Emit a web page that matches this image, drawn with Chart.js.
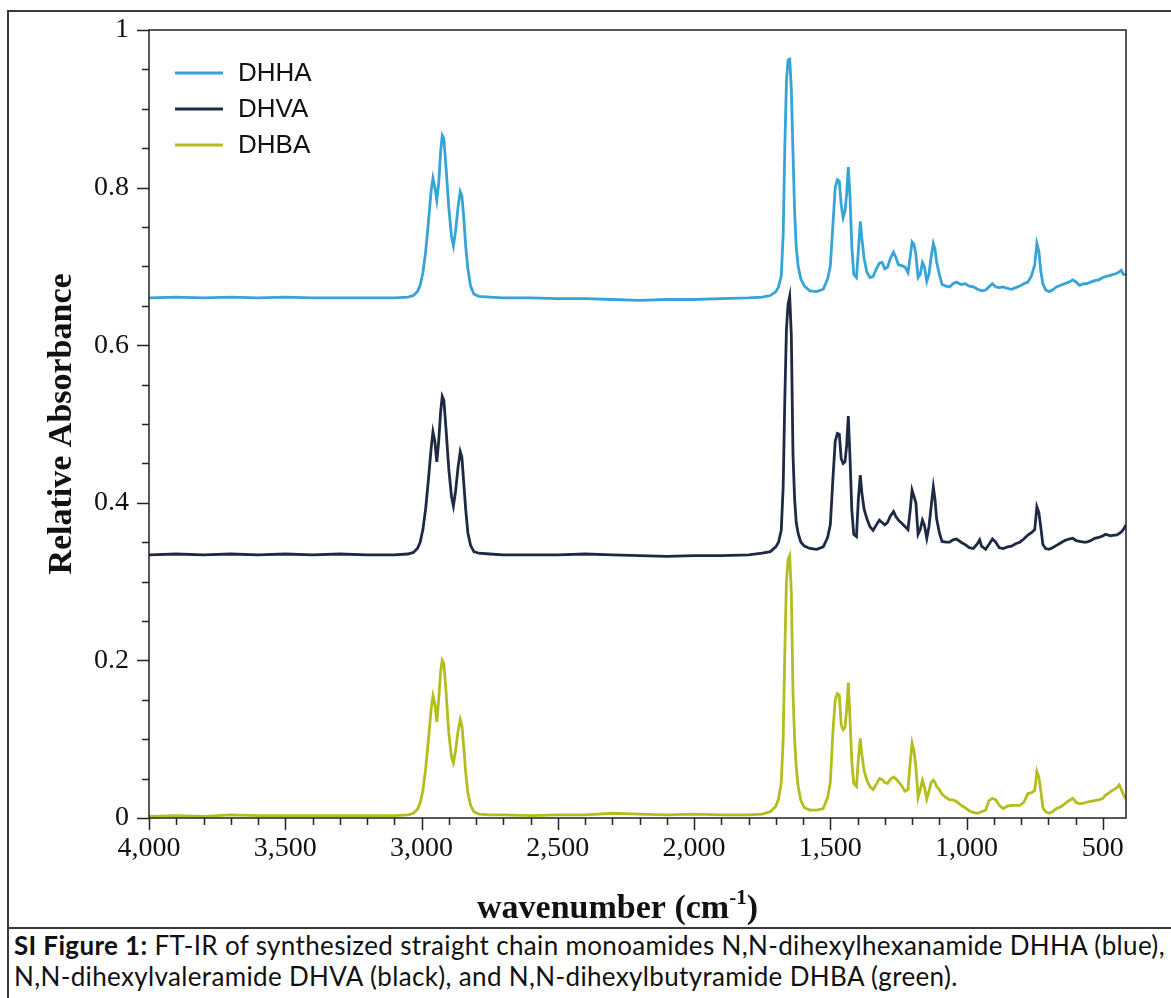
<!DOCTYPE html>
<html>
<head>
<meta charset="utf-8">
<script src="https://cdn.jsdelivr.net/npm/chart.js@4.4.1/dist/chart.umd.min.js"></script>
<style>
  html, body { margin: 0; padding: 0; background: #fff; overflow: hidden; }
  #frame { position: absolute; left: 7px; top: 10px; width: 1190px; height: 1000px; border: 2px solid #3a3a3a; box-sizing: border-box; }
  #sep { position: absolute; left: 7px; top: 927px; width: 1190px; border-top: 2px solid #3a3a3a; }
  #chartHolder { position: absolute; left: 0; top: 0; width: 1171px; height: 928px; }
  #caption { position: absolute; left: 14px; top: 930px; font-family: Lato, "Noto Sans", sans-serif; font-size: 26px; letter-spacing: 0.35px; line-height: 31px; white-space: nowrap; color: #111; }
</style>
</head>
<body>
<div id="frame"></div>
<div id="sep"></div>
<div id="chartHolder"><canvas id="irChart" width="1171" height="928"></canvas></div>
<div id="caption"><b>SI Figure 1:</b> FT-IR of synthesized straight chain monoamides N,N-dihexylhexanamide DHHA (blue),<br>N,N-dihexylvaleramide DHVA (black), and N,N-dihexylbutyramide DHBA (green).</div>

<script>
// wavenumber grid (cm-1)
var wavenumbers = [
  4000, 3900, 3800, 3700, 3600, 3500, 3400, 3300, 3200, 3100,
  3050, 3030, 3015, 3005, 2995, 2985, 2975, 2965, 2958, 2951,
  2944, 2937, 2930, 2924, 2918, 2910, 2900, 2890, 2883, 2875,
  2866, 2858, 2852, 2845, 2838, 2830, 2820, 2808, 2790, 2750,
  2700, 2600, 2500, 2400, 2300, 2200, 2100, 2000, 1900, 1800,
  1750, 1720, 1700, 1690, 1680, 1673, 1667, 1661, 1655, 1649,
  1643, 1637, 1631, 1625, 1618, 1608, 1595, 1575, 1550, 1526,
  1510, 1500, 1490, 1482, 1474, 1467, 1460, 1453, 1446, 1440,
  1434, 1428, 1421, 1414, 1404, 1397, 1390, 1384, 1376, 1366,
  1355, 1343, 1331, 1320, 1310, 1300, 1290, 1280, 1268, 1260,
  1250, 1238, 1226, 1215, 1207, 1200, 1193, 1186, 1178, 1170,
  1162, 1155, 1146, 1138, 1130, 1122, 1116, 1110, 1100, 1090,
  1075, 1062, 1050, 1037, 1020, 1005, 990, 975, 960, 952,
  945, 930, 918, 905, 893, 880, 866, 850, 835, 820,
  805, 790, 775, 762, 750, 742, 735, 728, 720, 710,
  697, 685, 670, 655, 640, 625, 610, 598, 585, 570,
  560, 545, 530, 515, 500, 490, 480, 470, 460, 450,
  440, 432, 425, 415
];

// DHHA (blue)
var dhha = [
  .660, .661, .660, .661, .660, .661, .660, .660, .660, .660,
  .661, .663, .668, .676, .692, .718, .755, .795, .812, .800,
  .784, .805, .845, .866, .862, .825, .775, .738, .726, .745,
  .775, .795, .790, .762, .726, .697, .675, .665, .662, .661,
  .660, .660, .659, .659, .658, .657, .658, .658, .659, .660,
  .661, .663, .668, .674, .688, .740, .850, .935, .962, .963,
  .925, .845, .770, .724, .700, .684, .675, .669, .668, .671,
  .684, .700, .755, .800, .810, .808, .778, .762, .770, .792,
  .826, .790, .725, .690, .686, .720, .757, .735, .710, .693,
  .686, .687, .697, .704, .705, .697, .699, .710, .718, .712,
  .702, .701, .699, .692, .712, .731, .728, .715, .686, .690,
  .705, .700, .681, .690, .712, .729, .722, .706, .690, .677,
  .675, .674, .678, .680, .677, .678, .675, .674, .671, .670,
  .669, .670, .674, .678, .674, .673, .674, .672, .671, .673,
  .675, .678, .680, .688, .702, .729, .720, .695, .678, .670,
  .668, .670, .674, .676, .678, .680, .683, .680, .676, .678,
  .678, .680, .682, .683, .686, .687, .688, .689, .690, .691,
  .693, .695, .690, .690
];

// DHVA (black)
var dhva = [
  .334, .335, .334, .335, .334, .335, .334, .335, .334, .334,
  .335, .337, .342, .350, .366, .392, .428, .468, .490, .478,
  .452, .478, .515, .535, .530, .493, .443, .408, .396, .415,
  .445, .465, .458, .425, .392, .362, .346, .338, .336, .335,
  .334, .334, .334, .335, .334, .333, .332, .333, .333, .334,
  .336, .338, .344, .350, .365, .420, .530, .620, .652, .662,
  .612, .462, .405, .375, .361, .350, .345, .342, .341, .344,
  .356, .372, .433, .478, .488, .487, .456, .450, .452, .473,
  .510, .460, .390, .360, .357, .405, .435, .412, .392, .380,
  .370, .365, .372, .378, .375, .372, .375, .383, .389, .383,
  .378, .374, .370, .366, .390, .416, .408, .400, .360, .366,
  .378, .372, .355, .370, .395, .420, .405, .380, .362, .351,
  .350, .350, .353, .354, .350, .347, .343, .342, .348, .353,
  .345, .341, .347, .354, .350, .343, .342, .344, .345, .348,
  .350, .354, .359, .362, .366, .395, .388, .370, .347, .342,
  .341, .343, .346, .349, .352, .354, .355, .352, .351, .350,
  .350, .352, .355, .356, .358, .360, .359, .358, .359, .359,
  .361, .363, .366, .372
];

// DHBA (green)
var dhba = [
  .002, .003, .002, .004, .003, .003, .003, .003, .003, .003,
  .004, .006, .011, .019, .035, .062, .098, .137, .155, .145,
  .122, .150, .185, .200, .196, .160, .108, .077, .070, .086,
  .110, .125, .118, .090, .058, .032, .016, .008, .005, .004,
  .004, .003, .004, .004, .006, .005, .004, .005, .004, .004,
  .005, .008, .015, .024, .045, .100, .210, .300, .328, .333,
  .285, .160, .100, .065, .040, .022, .013, .010, .010, .012,
  .026, .045, .112, .150, .158, .156, .118, .112, .115, .138,
  .172, .128, .070, .044, .040, .075, .101, .080, .060, .048,
  .040, .036, .043, .050, .049, .045, .044, .049, .052, .050,
  .046, .041, .034, .036, .070, .095, .085, .065, .026, .036,
  .048, .040, .024, .034, .045, .048, .045, .040, .036, .030,
  .026, .023, .023, .021, .016, .013, .009, .007, .006, .007,
  .008, .010, .022, .025, .023, .016, .012, .015, .016, .016,
  .016, .020, .031, .032, .035, .059, .052, .036, .013, .008,
  .006, .008, .012, .014, .018, .022, .025, .020, .018, .019,
  .020, .021, .022, .023, .025, .029, .031, .034, .036, .038,
  .042, .036, .030, .024
];

var seriesNames = ['DHHA', 'DHVA', 'DHBA'];
var seriesColors = ['#36a4d6', '#1e2a44', '#b4bd1e'];

var xTicks = [4000, 3500, 3000, 2500, 2000, 1500, 1000, 500];
var yTicks = [0, 0.2, 0.4, 0.6, 0.8, 1];
var yTickLabels = ['0', '0.2', '0.4', '0.6', '0.8', '1'];
var xMinorStep = 100;
var yMinorStep = 0.05;

function toPoints(values) {
  return wavenumbers.map(function (w, i) { return { x: w, y: values[i] }; });
}

// box, minor/major ticks, legend and x title (with superscript)
var decor = {
  id: 'decor',
  afterDraw: function (chart) {
    var ctx = chart.ctx;
    var a = chart.chartArea;
    var xs = chart.scales.x;
    var ys = chart.scales.y;
    ctx.save();
    ctx.strokeStyle = '#222';
    ctx.lineWidth = 1.5;
    ctx.strokeRect(a.left, a.top, a.right - a.left, a.bottom - a.top);

    ctx.beginPath();
    for (var w = 500; w <= 4000; w += xMinorStep) {
      var px = Math.round(xs.getPixelForValue(w)) + 0.5;
      var len = (w % 500 === 0) ? 12 : 7;
      ctx.moveTo(px, a.bottom);
      ctx.lineTo(px, a.bottom + len);
    }
    for (var k = 0; k <= 20; k++) {
      var py = Math.round(ys.getPixelForValue(k * yMinorStep)) + 0.5;
      var l2 = (k % 4 === 0) ? 12 : 7;
      ctx.moveTo(a.left - l2, py);
      ctx.lineTo(a.left, py);
    }
    ctx.stroke();

    // legend
    ctx.font = '26px "Liberation Sans", Arial, sans-serif';
    ctx.textBaseline = 'middle';
    chart.data.datasets.forEach(function (ds, i) {
      var y = a.top + 43 + i * 36;
      ctx.strokeStyle = ds.borderColor;
      ctx.lineWidth = 3;
      ctx.beginPath();
      ctx.moveTo(a.left + 26, y);
      ctx.lineTo(a.left + 74, y);
      ctx.stroke();
      ctx.fillStyle = '#111';
      ctx.fillText(ds.label, a.left + 89, y + 1);
    });

    // x axis title: wavenumber (cm-1)
    var main = 'bold 34px "Liberation Serif", "Times New Roman", serif';
    var sup = 'bold 21px "Liberation Serif", "Times New Roman", serif';
    ctx.textBaseline = 'alphabetic';
    ctx.fillStyle = '#111';
    ctx.font = main;
    var t1 = 'wavenumber (cm', t3 = ')';
    var w1 = ctx.measureText(t1).width, w3 = ctx.measureText(t3).width;
    ctx.font = sup;
    var t2 = '-1';
    var w2 = ctx.measureText(t2).width;
    var total = w1 + w2 + w3;
    var cx = (a.left + a.right) / 2 - 20;
    var x0 = cx - total / 2;
    var base = a.bottom + 100;
    ctx.font = main;
    ctx.fillText(t1, x0, base);
    ctx.font = sup;
    ctx.fillText(t2, x0 + w1, base - 14);
    ctx.font = main;
    ctx.fillText(t3, x0 + w1 + w2, base);
    ctx.restore();
  }
};

var ctx = document.getElementById('irChart');
var irChart = new Chart(ctx, {
  type: 'line',
  data: {
    datasets: [
      { label: seriesNames[0], data: toPoints(dhha), borderColor: seriesColors[0] },
      { label: seriesNames[1], data: toPoints(dhva), borderColor: seriesColors[1] },
      { label: seriesNames[2], data: toPoints(dhba), borderColor: seriesColors[2] }
    ]
  },
  options: {
    responsive: false,
    animation: false,
    layout: { padding: { top: 30, right: 45, left: 0, bottom: 0 } },
    plugins: { legend: { display: false }, tooltip: { enabled: false } },
    elements: {
      point: { radius: 0 },
      line: { borderWidth: 2.8, tension: 0, fill: false }
    },
    scales: {
      x: {
        type: 'linear',
        reverse: true,
        min: 415,
        max: 4000,
        afterFit: function (s) { s.height = 110; s.paddingLeft = 0; s.paddingRight = 0; },
        afterBuildTicks: function (s) {
          s.ticks = xTicks.map(function (v) { return { value: v }; });
        },
        grid: { display: false, drawTicks: false },
        border: { display: false },
        ticks: {
          padding: 14,
          autoSkip: false,
          maxRotation: 0,
          color: '#111',
          font: { family: '"Liberation Serif", "Times New Roman", serif', size: 28 },
          callback: function (v) { return Number(v).toLocaleString('en-US'); }
        }
      },
      y: {
        min: 0,
        max: 1,
        afterFit: function (s) { s.width = 149; s.paddingTop = 0; s.paddingBottom = 0; },
        afterBuildTicks: function (s) {
          s.ticks = yTicks.map(function (v) { return { value: v }; });
        },
        grid: { display: false, drawTicks: false },
        border: { display: false },
        ticks: {
          padding: 20,
          color: '#111',
          font: { family: '"Liberation Serif", "Times New Roman", serif', size: 28 },
          callback: function (v, i) { return yTickLabels[i]; }
        },
        title: {
          display: true,
          text: 'Relative Absorbance',
          color: '#111',
          font: { family: '"Liberation Serif", "Times New Roman", serif', size: 34, weight: 'bold' },
          padding: { top: 42, bottom: 0 }
        }
      }
    }
  },
  plugins: [decor]
});
</script>
</body>
</html>
